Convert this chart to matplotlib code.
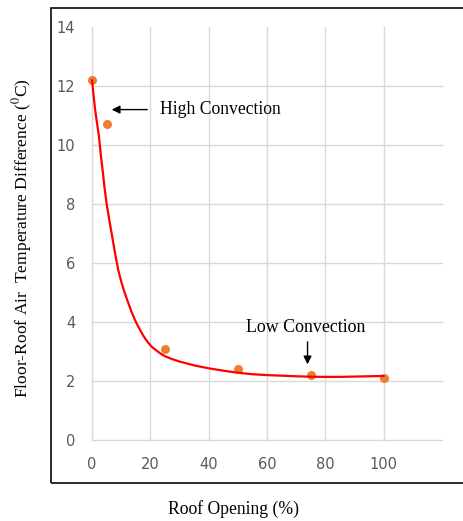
import numpy as np
import matplotlib.pyplot as plt
from matplotlib.patches import Rectangle

# measured points
opening = [0, 5, 25, 50, 75, 100]
temp_diff = [12.2, 10.7, 3.1, 2.4, 2.2, 2.1]

# red fitted curve
curve_x = [0, 0.5, 1, 1.7, 2.4, 3.0, 3.7, 4.3, 5.0, 6.0, 7.0, 8.0, 9.0, 10.0, 11.0, 12.5,
           13.5, 14.5, 15.5, 16.5, 17.5, 18.5, 19.5, 20.5, 22, 23.5, 25,
           27.5, 30, 35, 40, 45, 50, 55, 60, 65, 70, 75, 80, 85, 90, 95, 100]
curve_y = [12.2, 11.72, 11.25, 10.75, 10.28, 9.68, 9.1, 8.55, 8.02, 7.42, 6.85, 6.28, 5.76,
           5.38, 5.05, 4.63, 4.36, 4.12, 3.91, 3.73, 3.55, 3.4, 3.27, 3.16, 3.04, 2.93, 2.84,
           2.74, 2.66, 2.53, 2.43, 2.35, 2.28, 2.23, 2.2, 2.18, 2.16, 2.145, 2.14, 2.14, 2.15,
           2.16, 2.17]

xticks = [0, 20, 40, 60, 80, 100]
yticks = [0, 2, 4, 6, 8, 10, 12, 14]

plt.rcParams['mathtext.fontset'] = 'stix'

fig = plt.figure(figsize=(4.64, 5.21), dpi=100)
ax = fig.add_axes([92 / 464, 1 - 440 / 521, 350 / 464, 413 / 521])

ax.scatter(opening, temp_diff, s=42, color='#ED7D31', zorder=3, linewidths=0, clip_on=False)
ax.plot(curve_x, curve_y, color='#FF0000', lw=1.6, zorder=4, solid_capstyle='round',
        solid_joinstyle='round', clip_on=False)

ax.set_xlim(0, 120)
ax.set_ylim(0, 14)
ax.set_xticks(xticks)
ax.set_yticks(yticks)
ax.tick_params(length=0, labelsize=10.5, labelcolor='#595959')
ax.tick_params(axis='x', pad=12)
ax.tick_params(axis='y', pad=12)
for s in ax.spines.values():
    s.set_visible(False)
ax.grid(True, color='#D9D9D9', lw=1.0)
ax.set_axisbelow(True)
for gl in ax.xaxis.get_gridlines() + ax.yaxis.get_gridlines():
    gl.set_clip_on(False)
ax.yaxis.get_gridlines()[-1].set_visible(False)

serif = 'Liberation Serif'
ax.annotate('', xy=(5.8, 11.2), xytext=(19.9, 11.2),
            arrowprops=dict(arrowstyle='-|>', color='black', lw=1.0, mutation_scale=12))
ax.text(23.4, 11.2, 'High Convection', family=serif, fontsize=12.7, va='center', ha='left')
ax.annotate('', xy=(73.9, 2.47), xytext=(73.9, 3.42),
            arrowprops=dict(arrowstyle='-|>', color='black', lw=1.0, mutation_scale=12))
ax.text(73.2, 3.83, 'Low Convection', family=serif, fontsize=12.9, va='center', ha='center')

fig.text(233 / 464, 1 - 509 / 521, 'Roof Opening (%)', family=serif, fontsize=12.7,
         ha='center', va='center')
fig.text(22 / 464, 1 - 238 / 521, 'Floor-Roof Air  Temperature Difference ($^{0}$C)',
         family=serif, fontsize=12.6, ha='center', va='center', rotation=90)

fig.patches.append(Rectangle((51 / 464, 1 - 483 / 521), 1.0, 475 / 521, transform=fig.transFigure,
                             fill=False, edgecolor='#1a1a1a', lw=1.3))

fig.savefig('out.png', dpi=100)
